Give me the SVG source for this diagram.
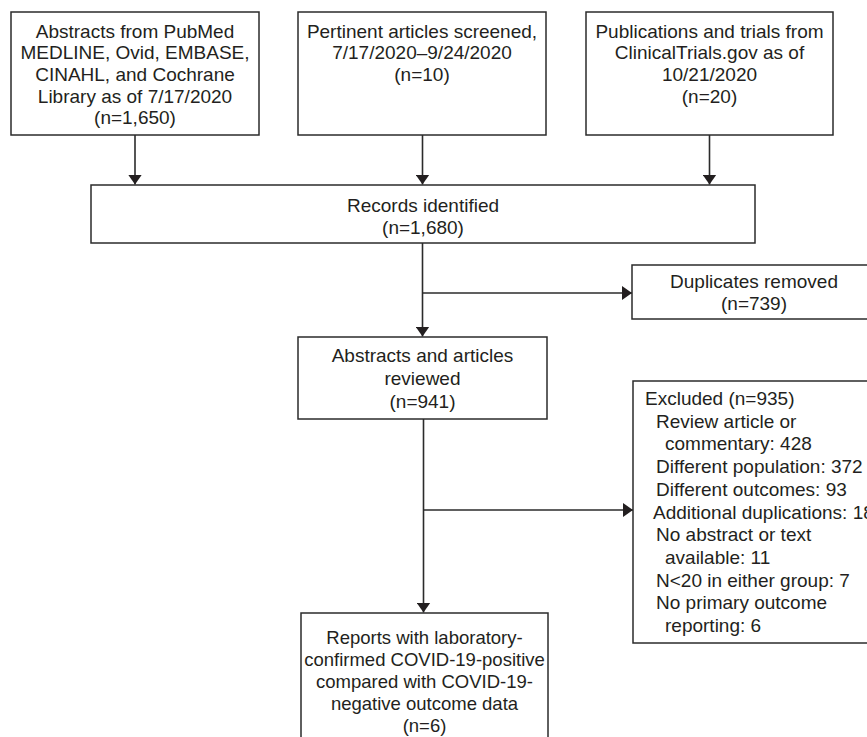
<svg xmlns="http://www.w3.org/2000/svg" width="867" height="737" viewBox="0 0 867 737">
<style>
.box{fill:#fff;stroke:#2b2b2b;stroke-width:1.5}
.ln{fill:none;stroke:#2b2b2b;stroke-width:1.6}
text{font-family:"Liberation Sans",Arial,sans-serif;font-size:19px;fill:#231f20}
.c{text-anchor:middle}
.s{font-size:18.5px}
</style>
<defs>
<marker id="ah" viewBox="0 0 10 14" refX="10" refY="7" markerWidth="10" markerHeight="14" markerUnits="userSpaceOnUse" orient="auto">
<path d="M0,0 L10,7 L0,14 Z" fill="#231f20"/>
</marker>
</defs>
<rect width="867" height="737" fill="#fff"/>
<g id="connectors">
<line class="ln" x1="135" y1="135" x2="135" y2="184.5" marker-end="url(#ah)"/>
<line class="ln" x1="422.5" y1="135" x2="422.5" y2="184.5" marker-end="url(#ah)"/>
<line class="ln" x1="709.5" y1="135" x2="709.5" y2="184.5" marker-end="url(#ah)"/>
<line class="ln" x1="422.5" y1="243" x2="422.5" y2="336.5" marker-end="url(#ah)"/>
<line class="ln" x1="422.5" y1="293" x2="632" y2="293" marker-end="url(#ah)"/>
<line class="ln" x1="423.5" y1="419" x2="423.5" y2="612.5" marker-end="url(#ah)"/>
<line class="ln" x1="423.5" y1="510" x2="633" y2="510" marker-end="url(#ah)"/>
</g>
<g id="n1">
<rect class="box" x="11" y="12" width="248" height="123"/>
<text class="c" x="135" y="37.7">Abstracts from PubMed</text>
<text class="c" x="135" y="59.4">MEDLINE, Ovid, EMBASE,</text>
<text class="c" x="135" y="81">CINAHL, and Cochrane</text>
<text class="c" x="135" y="102.7">Library as of 7/17/2020</text>
<text class="c" x="135" y="124.4">(n=1,650)</text>
</g>
<g id="n2">
<rect class="box" x="298" y="12" width="248" height="123"/>
<text class="c" x="422" y="37.7">Pertinent articles screened,</text>
<text class="c" x="422" y="59.4">7/17/2020–9/24/2020</text>
<text class="c" x="422" y="81">(n=10)</text>
</g>
<g id="n3">
<rect class="box" x="586" y="12" width="247" height="123"/>
<text class="c" x="709.5" y="37.7">Publications and trials from</text>
<text class="c" x="709.5" y="59.4">ClinicalTrials.gov as of</text>
<text class="c" x="709.5" y="81">10/21/2020</text>
<text class="c" x="709.5" y="102.7">(n=20)</text>
</g>
<g id="n4">
<rect class="box" x="91" y="185" width="664" height="58"/>
<text class="c" x="423" y="212">Records identified</text>
<text class="c" x="423" y="233.5">(n=1,680)</text>
</g>
<g id="n5">
<rect class="box" x="632" y="265" width="250" height="54"/>
<text class="c" x="754" y="288">Duplicates removed</text>
<text class="c" x="754" y="309.5">(n=739)</text>
</g>
<g id="n6">
<rect class="box" x="298" y="337" width="249" height="82"/>
<text class="c" x="422.5" y="362">Abstracts and articles</text>
<text class="c" x="422.5" y="385">reviewed</text>
<text class="c" x="422.5" y="408">(n=941)</text>
</g>
<g id="n7">
<rect class="box" x="633" y="381" width="250" height="262"/>
<text x="645" y="405">Excluded (n=935)</text>
<text x="656" y="427.7">Review article or</text>
<text x="665" y="450.4">commentary: 428</text>
<text x="656" y="473.1">Different population: 372</text>
<text x="656" y="495.8">Different outcomes: 93</text>
<text x="653" y="518.5">Additional duplications: 18</text>
<text x="656" y="541.2">No abstract or text</text>
<text x="665" y="563.9">available: 11</text>
<text x="656" y="586.6">N&lt;20 in either group: 7</text>
<text x="656" y="609.3">No primary outcome</text>
<text x="665" y="632">reporting: 6</text>
</g>
<g id="n8">
<rect class="box" x="301" y="613" width="247" height="140"/>
<text class="c s" x="424.5" y="644">Reports with laboratory-</text>
<text class="c s" x="424.5" y="666">confirmed COVID-19-positive</text>
<text class="c s" x="424.5" y="688">compared with COVID-19-</text>
<text class="c s" x="424.5" y="710">negative outcome data</text>
<text class="c s" x="424.5" y="732">(n=6)</text>
</g>
</svg>
